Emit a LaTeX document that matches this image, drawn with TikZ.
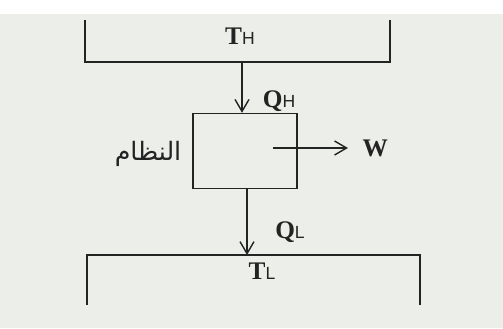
\documentclass[tikz,border=0pt]{standalone}
\usepackage{fontspec}
\setmainfont{Liberation Serif}
\setsansfont{Liberation Sans}
\newfontfamily\arabicfont[Script=Arabic]{DejaVu Sans}
\TeXXeTstate=1
\usetikzlibrary{arrows.meta}
\definecolor{paper}{RGB}{236,238,233}
\definecolor{ink}{RGB}{35,35,35}
\newcommand{\sym}[2]{\textbf{#1}{\sffamily\normalsize #2}}
\begin{document}
\begin{tikzpicture}[x=0.02cm, y=-0.02cm, line width=0.8pt, draw=ink, text=ink,
  flow/.style={draw=ink, -{Straight Barb[length=2.4mm,width=2.8mm]}},
  lbl/.style={inner sep=0pt, font=\Large}]
\fill[paper] (0,0) rectangle (503,328);
\fill[white] (0,0) rectangle (503,14);
% hot reservoir
\draw (85,20) -- (85,62) -- (390,62) -- (390,20);
\coordinate (hot) at (242,62);
\node[lbl] (th) at (240,36) {\sym{T}{H}};
% cold reservoir
\draw (87,305) -- (87,255) -- (420,255) -- (420,305);
\coordinate (cold) at (247,255);
\node[lbl] (tl) at (262,271) {\sym{T}{L}};
% the system
\node[draw, minimum width=2.08cm, minimum height=1.5cm, inner sep=0pt] (sys) at (245,151) {};
\node[lbl, font=\arabicfont\Large] (name) at (148,154) {\beginR النظام\endR};
\coordinate (wstart) at (273,148);
\node[lbl, anchor=west] (w) at (362,148) {\textbf{W}};
\node[lbl] (qh) at (279,101) {\sym{Q}{H}};
\node[lbl] (ql) at (290,232) {\sym{Q}{L}};

\draw[flow] (hot) -- (sys.north -| hot);
\draw[flow] (sys.south -| cold) -- (cold);
\draw[flow, shorten >=8pt] (wstart) -- (w.west);
\end{tikzpicture}
\end{document}
